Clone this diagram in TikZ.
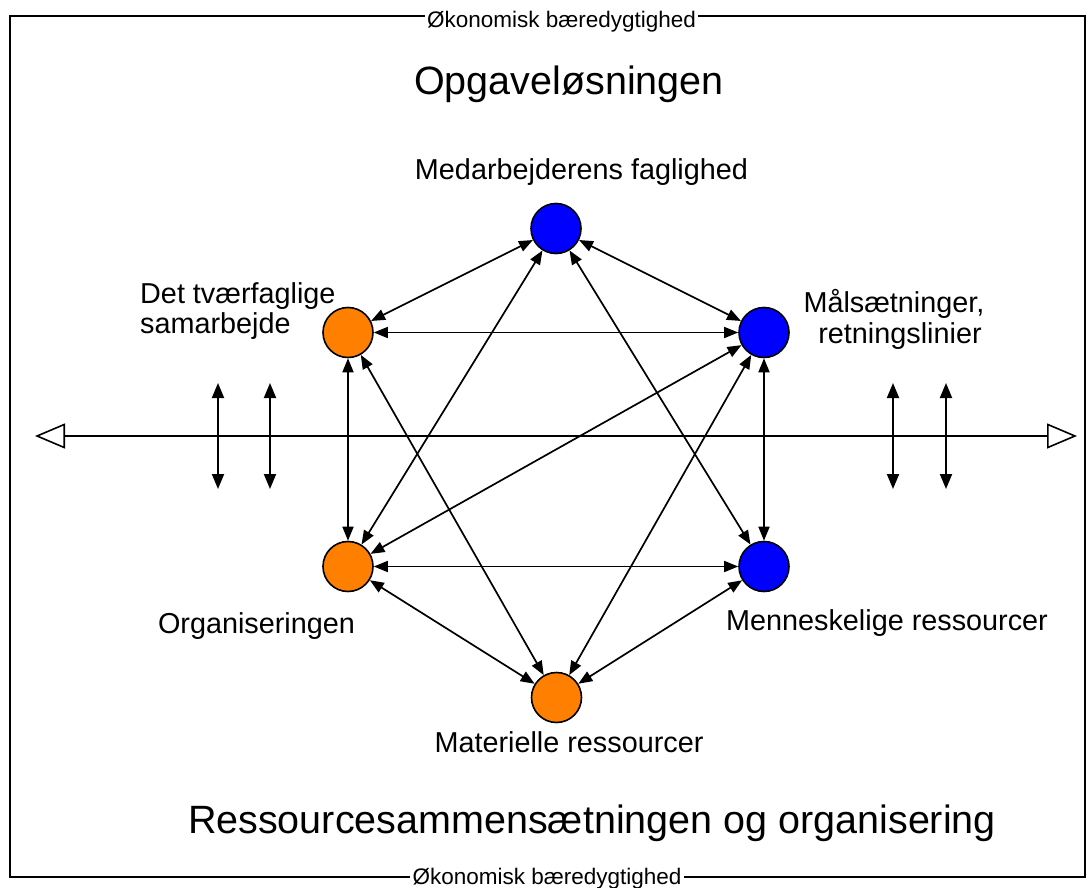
\documentclass[tikz,border=0pt]{standalone}
\usepackage{fontspec}
\setmainfont{Liberation Sans}
\usetikzlibrary{arrows.meta}
\definecolor{nodeorange}{RGB}{255,128,0}
\definecolor{nodeblue}{RGB}{0,0,255}
\begin{document}
\begin{tikzpicture}[x=1pt,y=-1pt,
  dot/.style={circle, draw=black, line width=1.6pt, minimum size=50pt, inner sep=0pt},
  orangedot/.style={dot, fill=nodeorange},
  bluedot/.style={dot, fill=nodeblue},
  link/.style={line width=1.7pt, {Triangle[length=14pt,width=11pt]}-{Triangle[length=14pt,width=11pt]}},
  vlink/.style={line width=1.9pt, {Triangle[length=15pt,width=12pt]}-{Triangle[length=15pt,width=12pt]}},
  axisline/.style={line width=1.6pt, {Triangle[fill=white,length=30pt,width=25pt]}-{Triangle[fill=white,length=30pt,width=25pt]}},
  frameline/.style={line width=1.6pt},
  lbl/.style={font=\fontsize{28.8}{31}\selectfont, inner sep=0pt, anchor=base},
  lblw/.style={lbl, anchor=base west},
  titletext/.style={font=\fontsize{39.5}{44}\selectfont, inner sep=0pt, anchor=base},
  econ/.style={font=\fontsize{22.5}{26}\selectfont, fill=white, inner xsep=2.5pt, inner ysep=1pt, anchor=base},
]
\useasboundingbox (0,0) rectangle (1088,888);
\fill[white] (0,0) rectangle (1088,888);

% frame
\draw[frameline] (10,16) rectangle (1085,877);
\node[econ] (econtop) at (561.5,28) {Økonomisk bæredygtighed};
\node[econ] (econbot) at (547,884) {Økonomisk bæredygtighed};

% titles
\node[titletext] (opg) at (569,95) {Opgaveløsningen};
\node[titletext] (res) at (592,833) {Ressourcesammensætningen og organisering};

% axis
\coordinate (axL) at (35,436);
\coordinate (axR) at (1077,436);
\draw[axisline] (axL) -- (axR);

\coordinate (v1t) at (218,383); \coordinate (v1b) at (218,489);
\coordinate (v2t) at (270,383); \coordinate (v2b) at (270,489);
\coordinate (v3t) at (893,383); \coordinate (v3b) at (893,489);
\coordinate (v4t) at (946,383); \coordinate (v4b) at (946,489);
\draw[vlink] (v1t) -- (v1b);
\draw[vlink] (v2t) -- (v2b);
\draw[vlink] (v3t) -- (v3b);
\draw[vlink] (v4t) -- (v4b);

% nodes
\node[bluedot] (T) at (556,228.5) {};
\node[bluedot] (RT) at (764,332.5) {};
\node[bluedot] (RB) at (764,566.5) {};
\node[orangedot] (LT) at (348,332.5) {};
\node[orangedot] (LB) at (348,566.5) {};
\node[orangedot] (B) at (556.5,697.5) {};

% connectors
\draw[link] (T) -- (LT);
\draw[link] (T) -- (RT);
\draw[link] (LT) -- (RT);
\draw[link] (T) -- (LB);
\draw[link] (T) -- (RB);
\draw[link] (LT) -- (LB);
\draw[link] (RT) -- (RB);
\draw[link] (LT) -- (B);
\draw[link] (RT) -- (B);
\draw[link] (RT) -- (LB);
\draw[link] (LB) -- (RB);
\draw[link] (LB) -- (B);
\draw[link] (RB) -- (B);

% labels
\node[lbl] (lT) at (581.5,180) {Medarbejderens faglighed};
\node[lblw] (lLT1) at (140,303) {Det tværfaglige};
\node[lblw] (lLT2) at (140,333) {samarbejde};
\node[lbl] (lRT1) at (894,312) {Målsætninger,};
\node[lbl] (lRT2) at (900,343) {retningslinier};
\node[lbl] (lLB) at (256.5,633) {Organiseringen};
\node[lbl] (lRB) at (887,630) {Menneskelige ressourcer};
\node[lbl] (lB) at (569,752) {Materielle ressourcer};
\end{tikzpicture}
\end{document}
